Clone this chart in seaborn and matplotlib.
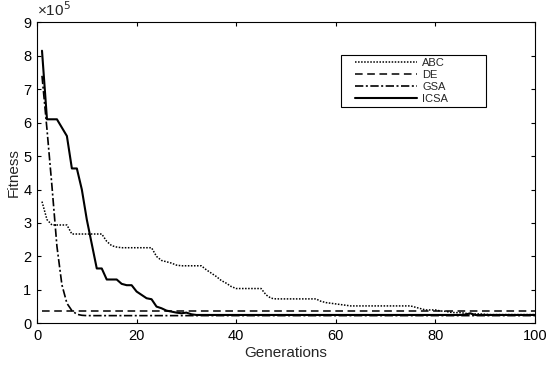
import numpy as np
import pandas as pd
import matplotlib
matplotlib.use("Agg")
import matplotlib.pyplot as plt
from matplotlib.patches import Rectangle
import seaborn as sns

sns.set_theme(style="white")
plt.rcParams['font.family'] = ['Liberation Sans', 'DejaVu Sans']

generations = list(range(1, 101))

abc = [3.64, 3.1, 2.94, 2.94, 2.94, 2.94, 2.67, 2.67, 2.67, 2.67,
       2.67, 2.67, 2.67, 2.45, 2.32, 2.28, 2.26, 2.26, 2.26, 2.26,
       2.26, 2.26, 2.26, 2.0, 1.88, 1.84, 1.8, 1.74, 1.72, 1.72,
       1.72, 1.72, 1.72, 1.6, 1.5, 1.4, 1.28, 1.2, 1.1, 1.04,
       1.04, 1.04, 1.04, 1.04, 1.04, 0.85, 0.75, 0.73, 0.73, 0.73,
       0.73, 0.73, 0.73, 0.73, 0.73, 0.73, 0.66, 0.62, 0.6, 0.58,
       0.56, 0.54, 0.52, 0.52, 0.52, 0.52, 0.52, 0.52, 0.52, 0.52,
       0.52, 0.52, 0.52, 0.52, 0.52, 0.48, 0.44, 0.4, 0.4, 0.4,
       0.37, 0.36, 0.33, 0.32, 0.32, 0.3, 0.28, 0.28, 0.28, 0.27,
       0.26, 0.26, 0.26, 0.26, 0.26, 0.26, 0.26, 0.26, 0.26, 0.26]

de = [0.36] * 100

gsa = [7.4, 5.8, 4.1, 2.3, 1.15, 0.6, 0.38, 0.27, 0.24, 0.23,
       0.23, 0.23, 0.23, 0.23, 0.23, 0.23, 0.23, 0.23, 0.23, 0.23,
       0.23, 0.23, 0.23, 0.23, 0.23, 0.23, 0.23, 0.23, 0.23, 0.23,
       0.23, 0.23, 0.23, 0.23, 0.23, 0.23, 0.23, 0.23, 0.23, 0.23,
       0.23, 0.23, 0.23, 0.23, 0.23, 0.23, 0.23, 0.23, 0.23, 0.23,
       0.23, 0.23, 0.23, 0.23, 0.23, 0.23, 0.23, 0.23, 0.23, 0.23,
       0.23, 0.23, 0.23, 0.23, 0.23, 0.23, 0.23, 0.23, 0.23, 0.23,
       0.23, 0.23, 0.23, 0.23, 0.23, 0.23, 0.23, 0.23, 0.23, 0.23,
       0.23, 0.23, 0.23, 0.23, 0.23, 0.23, 0.23, 0.23, 0.23, 0.23,
       0.23, 0.23, 0.23, 0.23, 0.23, 0.23, 0.23, 0.23, 0.23, 0.23]

icsa = [8.15, 6.1, 6.1, 6.1, 5.85, 5.6, 4.63, 4.63, 4.0, 3.1,
        2.37, 1.64, 1.64, 1.31, 1.31, 1.31, 1.18, 1.14, 1.14, 0.95,
        0.85, 0.75, 0.72, 0.5, 0.45, 0.38, 0.35, 0.32, 0.3, 0.32,
        0.27, 0.25, 0.25, 0.25, 0.25, 0.25, 0.25, 0.25, 0.25, 0.25,
        0.25, 0.25, 0.25, 0.25, 0.25, 0.25, 0.25, 0.25, 0.25, 0.25,
        0.25, 0.25, 0.25, 0.25, 0.25, 0.25, 0.25, 0.25, 0.25, 0.25,
        0.25, 0.25, 0.25, 0.25, 0.25, 0.25, 0.25, 0.25, 0.25, 0.25,
        0.25, 0.25, 0.25, 0.25, 0.25, 0.25, 0.25, 0.25, 0.25, 0.25,
        0.25, 0.25, 0.25, 0.25, 0.25, 0.26, 0.3, 0.25, 0.25, 0.25,
        0.25, 0.25, 0.25, 0.25, 0.25, 0.25, 0.25, 0.25, 0.25, 0.25]

series_names = ["ABC", "DE", "GSA", "ICSA"]
series_values = [abc, de, gsa, icsa]
styles = {
    "ABC": dict(linestyle=(0, (1, 1)), linewidth=1.1),
    "DE": dict(linestyle=(0, (5, 3)), linewidth=1.1),
    "GSA": dict(linestyle=(0, (5, 1.5, 1.2, 1.5)), linewidth=1.2),
    "ICSA": dict(linestyle="-", linewidth=1.5),
}

fig = plt.figure(figsize=(5.5, 3.65), dpi=100)
ax = fig.add_axes([0.0673, 0.1142, 0.9054, 0.8247])

for name, vals in zip(series_names, series_values):
    sns.lineplot(x=generations, y=[v * 1e5 for v in vals], ax=ax, color="black",
                 label=name, **styles[name])

ax.set_xlim(0, 100)
ax.set_ylim(0, 9e5)
ax.set_xticks([0, 20, 40, 60, 80, 100])
ax.set_yticks([i * 1e5 for i in range(10)])
ax.set_yticklabels([str(i) for i in range(10)])
ax.tick_params(direction="in", length=3, width=0.8, labelsize=10.5, colors="black",
               top=True, right=True, bottom=True, left=True, pad=4)
for s in ax.spines.values():
    s.set_color("black")
    s.set_linewidth(0.8)

ax.text(0.0, 1.01, "×10$^5$", transform=ax.transAxes, fontsize=11,
        ha="left", va="bottom")
ax.set_xlabel("Generations", fontsize=11, labelpad=2)
ax.set_ylabel("Fitness", fontsize=11, labelpad=2)

# legend frame drawn separately (MATLAB-style wide box)
ax.add_patch(Rectangle((0.61, 0.7196), 0.291, 0.1728, transform=ax.transAxes,
                       facecolor="white", edgecolor="black", linewidth=0.8,
                       zorder=4))
leg = ax.legend(loc="upper left", bbox_to_anchor=(0.6386, 0.881),
                fontsize=8, handlelength=5.6, handletextpad=0.45,
                labelspacing=0.18, borderpad=0, borderaxespad=0,
                frameon=False)
leg.set_zorder(5)

fig.savefig("out.png", dpi=100)
